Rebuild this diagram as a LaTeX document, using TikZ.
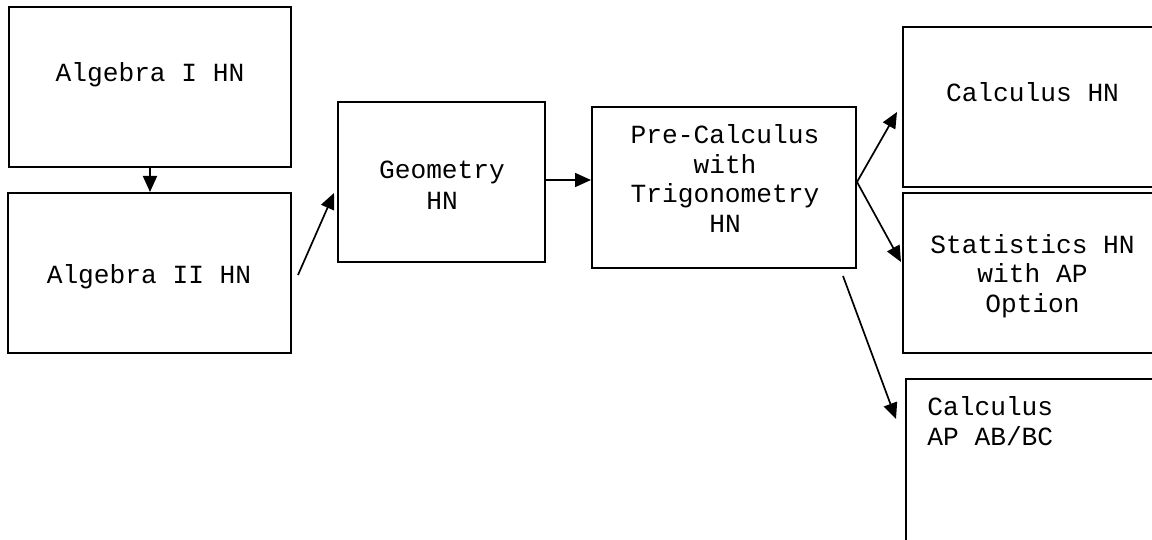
\documentclass[tikz,border=0pt]{standalone}
\usepackage{fontspec}
\setmonofont{Liberation Mono}
\usetikzlibrary{arrows.meta}

\begin{document}
\begin{tikzpicture}[x=0.5pt,y=-0.5pt,>={Triangle[length=8pt,width=7pt]},
    box/.style={draw,line width=1pt,minimum height=80pt,inner sep=0pt},
    txt/.style={inner sep=0pt,align=center,font=\ttfamily\fontsize{13.1}{14.75}\selectfont},
    link/.style={->,line width=0.85pt}]
            \useasboundingbox (0,0) rectangle (1152,540);
            \clip (0,0) rectangle (1152,540);
            % boxes
            \node[box,minimum width=141pt] (alg1) at (150,87) {};
            \node[box,minimum width=141.5pt] (alg2) at (149.5,273) {};
            \node[box,minimum width=103.5pt] (geo) at (441.5,182) {};
            \node[box,minimum width=132pt,minimum height=80.5pt] (pre) at (724,187.5) {};
            \node[box,minimum width=129.5pt] (calchn) at (1032.5,107) {};
            \node[box,minimum width=129.5pt] (stats) at (1032.5,273) {};
            \node[box,minimum width=129.5pt,minimum height=100pt] (calcap) at (1035.5,479) {};
            % texts
            \node[txt] (alg1txt) at (150,75) {Algebra I HN};
            \node[txt] (alg2txt) at (149,277) {Algebra II HN};
            \node[txt] (geotxt) at (442,185) {Geometry\\[.75pt]HN};
            \node[txt] (pretxt) at (725,178.5) {Pre-Calculus\\with\\Trigonometry\\HN};
            \node[txt] (calchntxt) at (1032.5,92.5) {Calculus HN};
            \node[txt] (statstxt) at (1032.5,276) {Statistics HN\\with AP\\Option};
            \node[txt,align=left,anchor=west] (calcaptxt) at (927,421) {Calculus\\AP AB/BC};
            % arrows
            \draw[link] (alg1.south) -- (alg1.south |- alg2.north);
            \draw[link] ([xshift=3pt,yshift=-1pt]alg2.east) -- ([xshift=-1.5pt,yshift=-5.5pt]geo.west);
            \draw[link] ([yshift=1pt]geo.east) -- ([yshift=1pt]geo.east -| pre.west);
            \draw[link] ([yshift=2.75pt]pre.east) -- ([xshift=-2.5pt,yshift=-2.5pt]calchn.west);
            \draw[link] ([yshift=2.75pt]pre.east) -- ([xshift=-.5pt,yshift=5.5pt]stats.west);
            \draw[link] ([xshift=-7pt,yshift=-3.5pt]pre.south east) -- ([xshift=-4.5pt,yshift=-20.5pt]calcap.north west);
\end{tikzpicture}
\end{document}
